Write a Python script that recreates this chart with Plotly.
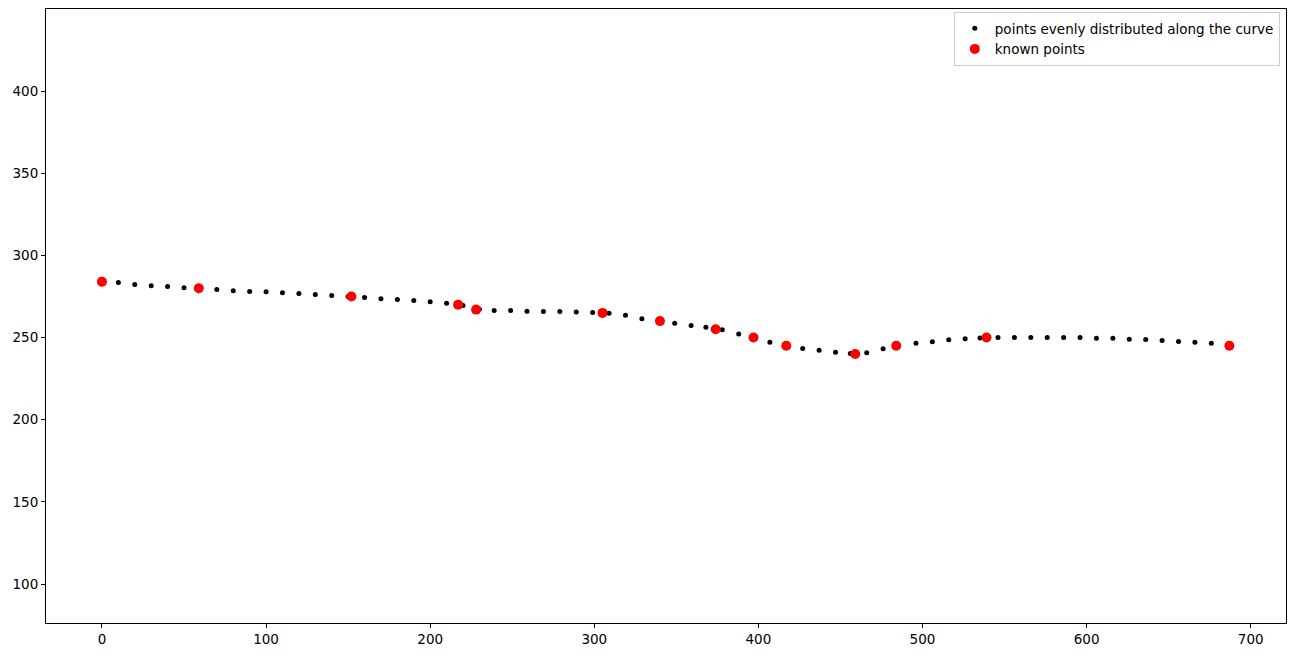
import plotly.graph_objects as go

# points evenly distributed along the curve
even_x = [0, 10, 20, 30, 40, 50, 60, 70, 80, 90, 100, 110, 120, 130, 140, 150, 160, 170,
          180, 190, 200, 210, 220, 230, 239, 249, 259, 269, 279, 289, 299, 309, 319, 329,
          339, 349, 359, 368, 378, 388, 397, 407, 417, 427, 437, 447, 456, 466, 476, 485,
          496, 506, 516, 526, 535, 546, 556, 566, 576, 586, 596, 606, 616, 626, 636, 646,
          656, 666, 676]
even_y = [284, 283.5, 282.3, 281.5, 281, 280.3, 279.8, 279.2, 278.5, 278, 277.8, 277.3,
          276.8, 276.2, 275.5, 275, 274.3, 273.6, 273.1, 272.5, 271.8, 270.8, 269.5, 267.2,
          266.5, 266.4, 266, 265.8, 265.8, 265.6, 265.3, 264.8, 263.5, 261.5, 260, 258.7,
          257.3, 256.2, 254.8, 252.2, 250, 247.2, 245.4, 243.3, 242.2, 241, 240.3, 240.8,
          243.2, 245.6, 246.5, 247.5, 248.6, 249.3, 249.7, 250, 250, 250, 250, 250, 250,
          249.6, 249.5, 249, 248.8, 248.2, 247.6, 247.2, 246.5]

# known points
known_x = [0, 59, 152, 217, 228, 305, 340, 374, 397, 417, 459, 484, 539, 687]
known_y = [284, 280, 275, 270, 267, 265, 260, 255, 250, 245, 240, 245, 250, 245]

fig = go.Figure()
fig.add_trace(go.Scatter(x=even_x, y=even_y, mode='markers',
                         marker=dict(color='black', size=5),
                         name='points evenly distributed along the curve'))
fig.add_trace(go.Scatter(x=known_x, y=known_y, mode='markers',
                         marker=dict(color='red', size=10),
                         name='known points'))

axis = dict(showgrid=False, zeroline=False, showline=True, linecolor='black',
            mirror=True, ticks='outside', ticklen=4, tickcolor='black',
            tickfont=dict(size=13.5, color='black'))
fig.update_layout(
    width=1296, height=659,
    plot_bgcolor='white', paper_bgcolor='white',
    font=dict(family='DejaVu Sans', size=13.5, color='black'),
    margin=dict(l=38, r=18, t=1, b=44),
    xaxis=dict(range=[-34.1, 721.5], dtick=100, **axis),
    yaxis=dict(range=[76.3, 449.9], dtick=50, **axis),
    showlegend=True,
    legend=dict(x=0.995, y=0.995, xanchor='right', yanchor='top',
                bordercolor='#cccccc', borderwidth=1, bgcolor='white',
                font=dict(size=13.5)),
)

fig.write_html("out.html")
